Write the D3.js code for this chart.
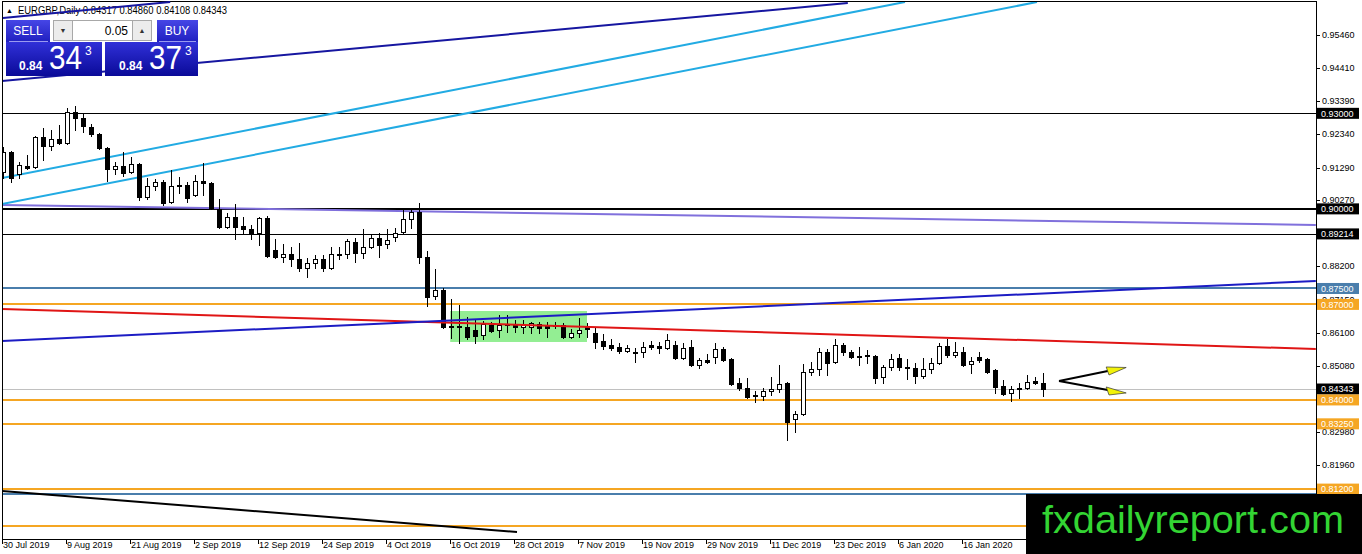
<!DOCTYPE html>
<html><head><meta charset="utf-8">
<script src="https://cdn.jsdelivr.net/npm/d3@7/dist/d3.min.js"></script>
<style>
html,body{margin:0;padding:0;background:#fff;overflow:hidden;}
svg{display:block;font-family:"Liberation Sans",Arial,sans-serif;}
</style></head>
<body><svg id="chart" width="1362" height="554"></svg>
<script>
// ---------- DATA ----------
const opens = [.9116,.9179,.9109,.9135,.9132,.9226,.9197,.9220,.9207,.9305,
.9286,.9257,.9235,.9191,.9126,.9135,.9116,.9141,.9037,.9072,
.9085,.9022,.9075,.9075,.9043,.9088,.9082,.9000,.8943,.8975,
.8946,.8937,.8925,.8972,.8871,.8849,.8858,.8843,.8815,.8831,
.8843,.8815,.8855,.8858,.8896,.8862,.8880,.8909,.8890,.8912,
.8928,.8968,.8991,.8849,.8726,.8745,.8632,.8629,.8629,.8620,
.8604,.8635,.8620,.8638,.8638,.8629,.8629,.8638,.8635,.8635,
.8635,.8598,.8611,.8629,.8611,.8585,.8573,.8566,.8554,.8551,
.8551,.8573,.8570,.8563,.8573,.8532,.8566,.8510,.8526,.8535,
.8560,.8529,.8454,.8438,.8415,.8412,.8428,.8434,.8454,.8340,
.8356,.8488,.8497,.8551,.8520,.8573,.8551,.8538,.8541,.8538,
.8472,.8504,.8532,.8504,.8501,.8475,.8497,.8517,.8570,.8541,
.8551,.8513,.8535,.8529,.8494,.8444,.8422,.8438,.8438,.8460,.8452];
const highs = [.9194,.9182,.9148,.9169,.9229,.9254,.9248,.9263,.9317,.9323,
.9302,.9266,.9238,.9194,.9148,.9179,.9163,.9144,.9097,.9094,
.9091,.9122,.9100,.9085,.9106,.9144,.9085,.9031,.8988,.9015,
.8975,.8949,.8975,.8978,.8906,.8889,.8880,.8893,.8846,.8855,
.8855,.8880,.8880,.8906,.8909,.8937,.8921,.8925,.8937,.8940,
.8997,.9000,.9019,.8868,.8811,.8752,.8717,.8698,.8661,.8651,
.8648,.8645,.8667,.8667,.8651,.8651,.8645,.8645,.8645,.8645,
.8642,.8623,.8657,.8642,.8626,.8607,.8592,.8579,.8573,.8563,
.8582,.8585,.8582,.8607,.8585,.8579,.8588,.8532,.8545,.8579,
.8566,.8532,.8469,.8469,.8428,.8438,.8472,.8510,.8457,.8366,
.8513,.8520,.8563,.8560,.8592,.8579,.8557,.8566,.8557,.8541,
.8510,.8545,.8545,.8529,.8517,.8532,.8532,.8579,.8592,.8582,
.8566,.8535,.8551,.8532,.8497,.8463,.8444,.8454,.8479,.8472,.8486];
const lows = [.9097,.9085,.9097,.9126,.9129,.9154,.9185,.9203,.9203,.9248,
.9242,.9229,.9188,.9088,.9109,.9103,.9113,.9028,.9031,.9059,
.9012,.9019,.9050,.9022,.9040,.9043,.9000,.8940,.8940,.8906,
.8921,.8906,.8886,.8849,.8846,.8834,.8821,.8805,.8786,.8815,
.8805,.8812,.8843,.8846,.8834,.8846,.8877,.8849,.8877,.8899,
.8925,.8940,.8831,.8695,.8717,.8626,.8595,.8579,.8592,.8579,
.8592,.8614,.8598,.8614,.8614,.8611,.8611,.8611,.8598,.8626,
.8595,.8595,.8598,.8598,.8563,.8560,.8557,.8548,.8551,.8520,
.8535,.8560,.8548,.8560,.8529,.8529,.8507,.8501,.8517,.8517,
.8523,.8447,.8431,.8406,.8394,.8400,.8415,.8425,.8274,.8300,
.8353,.8479,.8479,.8479,.8517,.8541,.8532,.8510,.8517,.8454,
.8454,.8494,.8494,.8466,.8454,.8469,.8485,.8513,.8535,.8535,
.8507,.8485,.8520,.8486,.8422,.8415,.8397,.8406,.8434,.8450,.8411];
const closes = [.9179,.9097,.9138,.9129,.9226,.9197,.9220,.9207,.9305,.9286,
.9260,.9235,.9191,.9126,.9135,.9113,.9141,.9037,.9072,.9085,
.9019,.9072,.9072,.9034,.9088,.9082,.9003,.8943,.8975,.8943,
.8937,.8925,.8972,.8852,.8849,.8858,.8843,.8815,.8831,.8843,
.8815,.8858,.8858,.8899,.8862,.8880,.8909,.8887,.8902,.8925,
.8968,.8991,.8849,.8723,.8745,.8629,.8629,.8632,.8598,.8601,
.8638,.8617,.8635,.8636,.8629,.8635,.8642,.8626,.8626,.8632,
.8598,.8611,.8620,.8623,.8582,.8569,.8563,.8554,.8563,.8550,
.8566,.8566,.8563,.8588,.8532,.8563,.8510,.8526,.8520,.8560,
.8526,.8450,.8438,.8409,.8414,.8428,.8434,.8450,.8331,.8356,
.8488,.8497,.8551,.8517,.8573,.8551,.8535,.8537,.8540,.8469,
.8504,.8529,.8504,.8501,.8475,.8497,.8517,.8570,.8541,.8551,
.8510,.8523,.8526,.8488,.8441,.8418,.8434,.8434,.8457,.8454,.84343];

const xLabels = ["30 Jul 2019","9 Aug 2019","21 Aug 2019","2 Sep 2019","12 Sep 2019","24 Sep 2019","4 Oct 2019","16 Oct 2019","28 Oct 2019","7 Nov 2019","19 Nov 2019","29 Nov 2019","11 Dec 2019","23 Dec 2019","6 Jan 2020","16 Jan 2020"];
const xLabelBars = [0,8,16,24,32,40,48,56,64,72,80,88,96,104,112,120];
const priceTicks = [0.9546,0.9441,0.9339,0.9234,0.9129,0.9027,0.8820,0.8715,0.8610,0.8508,0.8298,0.8196];

const levelPrices = [0.93,0.90,0.89214,0.875,0.87,0.84343,0.84,0.8325,0.812,0.8106,0.8005];
const levelKinds  = ["black","blackBold","black","steel","orange","current","orange","orange","orange","steel","orange"];
const levelLabelShown = [true,true,true,true,true,true,true,true,true,false,false];

// drawn objects, in (bar index, price)
const navyUpper  = [[0,0.95994],[20.9,0.96496]];
const navyLower  = [[-0.125,0.94016],[105.6,0.96465]];
const cyanUpper  = [[-0.125,0.90970],[112.75,0.96496]];
const cyanLower  = [[-0.125,0.90153],[129.25,0.96496]];
const purpleLine = [[-0.125,0.90122],[164.1,0.89494]];
const redLine    = [[-0.125,0.86856],[164.1,0.85600]];
const blueLine   = [[-0.125,0.85852],[164.1,0.87736]];
const blackDiag  = [[-0.125,0.81142],[64.25,0.79854]];
const greenZone  = [[55.9,0.86793],[73.0,0.85820]];
const arrowFrom  = [132,0.84596];
const arrowUpTo  = [138.1,0.84909];
const arrowDnTo  = [138.1,0.84313];
const arrowUpHead = [[137.9,0.85035],[138.25,0.84784],[140.4,0.85019]];
const arrowDnHead = [[137.9,0.84407],[138.25,0.84156],[140.4,0.84219]];

const headerText = "EURGBP,Daily  0.84317 0.84860 0.84108 0.84343";
const lotText = "0.05";

// ---------- STYLES ----------
const levelStyle = {
  black:{stroke:"#000",w:1,bg:"#000"},
  blackBold:{stroke:"#000",w:2,bg:"#000"},
  steel:{stroke:"#4a7eac",w:2,bg:"#4a7eac"},
  orange:{stroke:"#f5a623",w:2,bg:"#f5a623"},
  current:{stroke:"#c0c0c0",w:1,bg:"#000"}
};

// ---------- SCALES ----------
const svg = d3.select("#chart");
const x = d3.scaleLinear().domain([0,130]).range([3,1043]);
const y = d3.scaleLinear().domain([0.9546,0.8196]).range([35,464.9]);
const PL=2, PR=1316, PT=1, PB=539;

svg.append("rect").attr("width",1362).attr("height",554).attr("fill","#fff");
const defs = svg.append("defs");
defs.append("clipPath").attr("id","plotclip").append("rect")
  .attr("x",PL).attr("y",PT).attr("width",PR-PL).attr("height",PB-PT);
const g1 = defs.append("linearGradient").attr("id","btnG").attr("x1",0).attr("y1",0).attr("x2",0).attr("y2",1);
g1.append("stop").attr("offset","0").attr("stop-color","#4646e6");
g1.append("stop").attr("offset","1").attr("stop-color","#2020c0");
const g2 = defs.append("linearGradient").attr("id","boxG").attr("x1",0).attr("y1",0).attr("x2",0).attr("y2",1);
g2.append("stop").attr("offset","0").attr("stop-color","#3030d8");
g2.append("stop").attr("offset","1").attr("stop-color","#0a0a98");

const plot = svg.append("g").attr("clip-path","url(#plotclip)");

// green zone
plot.append("rect")
  .attr("x",x(greenZone[0][0])).attr("y",y(greenZone[0][1]))
  .attr("width",x(greenZone[1][0])-x(greenZone[0][0]))
  .attr("height",y(greenZone[1][1])-y(greenZone[0][1]))
  .attr("fill","#93ee93");

// horizontal levels
levelPrices.forEach((p,i)=>{
  const s = levelStyle[levelKinds[i]];
  const yy = Math.round(y(p)) + (s.w===1?0.5:0);
  plot.append("line").attr("x1",PL).attr("x2",PR).attr("y1",yy).attr("y2",yy)
    .attr("stroke",s.stroke).attr("stroke-width",s.w);
});

// trend lines
const line = d3.line().x(d=>x(d[0])).y(d=>y(d[1]));
function seg(pts,color,w){
  plot.append("path").attr("d",line(pts)).attr("fill","none").attr("stroke",color).attr("stroke-width",w);
}
seg(purpleLine,"#8070dc",2);
seg(navyLower,"#1616a0",2);
seg(cyanUpper,"#22abe3",2);
seg(cyanLower,"#22abe3",2);
seg(blackDiag,"#000",2);

// candles
const cg = plot.append("g");
opens.forEach((o,i)=>{
  const c = closes[i], h = highs[i], l = lows[i];
  const X = Math.round(x(i));
  cg.append("line").attr("x1",X+0.5).attr("x2",X+0.5)
    .attr("y1",Math.round(y(h))).attr("y2",Math.round(y(l))+1)
    .attr("stroke","#000").attr("stroke-width",1);
  const top = Math.round(y(Math.max(o,c))), bot = Math.round(y(Math.min(o,c)));
  if (c > o) {
    cg.append("rect").attr("x",X-1.5).attr("y",top+0.5).attr("width",4)
      .attr("height",Math.max(bot-top,1)).attr("fill","#fff").attr("stroke","#000").attr("stroke-width",1);
  } else {
    cg.append("rect").attr("x",X-2).attr("y",top).attr("width",5)
      .attr("height",Math.max(bot-top,1)+1).attr("fill","#000");
  }
});

seg(redLine,"#e01515",2);
seg(blueLine,"#1c1cc4",2);

// arrows
seg([arrowFrom,arrowUpTo],"#000",2);
seg([arrowFrom,arrowDnTo],"#000",2);
[arrowUpHead,arrowDnHead].forEach(h=>{
  plot.append("path").attr("d",line(h)+"Z").attr("fill","#f2f20a").attr("stroke","#333").attr("stroke-width",0.7);
});

// frame
svg.append("rect").attr("x",PL+0.5).attr("y",PT+0.5).attr("width",PR-PL).attr("height",PB-PT)
  .attr("fill","none").attr("stroke","#000").attr("stroke-width",1);

// x axis
xLabelBars.forEach((b,i)=>{
  const X = Math.round(x(b));
  svg.append("line").attr("x1",X-0.5).attr("x2",X-0.5).attr("y1",PB).attr("y2",PB+5).attr("stroke","#000");
  svg.append("text").attr("x",X).attr("y",PB+9).attr("font-size",9).attr("fill","#000").text(xLabels[i]);
});

// y axis
priceTicks.forEach(p=>{
  const yy = Math.round(y(p));
  svg.append("line").attr("x1",PR).attr("x2",PR+4).attr("y1",yy+0.5).attr("y2",yy+0.5).attr("stroke","#000");
  svg.append("text").attr("x",PR+6).attr("y",yy+3.3).attr("font-size",9).attr("fill","#000").text(p.toFixed(5));
});
// level label boxes (hidden ones drawn first so visible ones cover them)
const order = levelPrices.map((p,i)=>i).sort((a,b)=>levelLabelShown[a]-levelLabelShown[b]);
order.forEach(i=>{
  const p = levelPrices[i];
  const s = levelStyle[levelKinds[i]];
  const yy = y(p);
  svg.append("rect").attr("x",PR+1).attr("y",yy-5.5).attr("width",42).attr("height",11).attr("fill",s.bg);
  if (levelLabelShown[i])
    svg.append("text").attr("x",PR+5).attr("y",yy+3.3).attr("font-size",9).attr("fill","#fff").text(p.toFixed(5));
});

// header
svg.append("text").attr("x",6).attr("y",13).attr("font-size",7).attr("fill","#000").text("\u25B2");
svg.append("text").attr("x",18).attr("y",14).attr("font-size",10).attr("fill","#000")
  .attr("textLength",209).attr("lengthAdjust","spacingAndGlyphs").text(headerText);
// upper navy channel line is drawn over the header text
svg.append("g").attr("clip-path","url(#plotclip)").append("path").attr("d",line(navyUpper))
  .attr("fill","none").attr("stroke","#1616a0").attr("stroke-width",2);

// trade panel
const pn = svg.append("g");
pn.append("rect").attr("x",6).attr("y",20).attr("width",44).attr("height",22).attr("fill","url(#btnG)");
pn.append("rect").attr("x",6).attr("y",42).attr("width",96).attr("height",34).attr("fill","url(#boxG)");
pn.append("rect").attr("x",157).attr("y",20).attr("width",41).attr("height",22).attr("fill","url(#btnG)");
pn.append("rect").attr("x",105).attr("y",42).attr("width",93).attr("height",34).attr("fill","url(#boxG)");
pn.append("line").attr("x1",9).attr("x2",48).attr("y1",41.5).attr("y2",41.5).attr("stroke","#9a9af0");
pn.append("line").attr("x1",159).attr("x2",196).attr("y1",41.5).attr("y2",41.5).attr("stroke","#9a9af0");
pn.append("rect").attr("x",53.5).attr("y",20.5).attr("width",19).attr("height",20).attr("fill","#ececec").attr("stroke","#a8a8a8");
pn.append("rect").attr("x",72.5).attr("y",20.5).attr("width",60).attr("height",20).attr("fill","#fff").attr("stroke","#a8a8a8");
pn.append("rect").attr("x",132.5).attr("y",20.5).attr("width",19).attr("height",20).attr("fill","#ececec").attr("stroke","#a8a8a8");
pn.append("text").attr("x",63).attr("y",33).attr("font-size",7).attr("text-anchor","middle").attr("fill","#333").text("\u25BC");
pn.append("text").attr("x",142).attr("y",33).attr("font-size",7).attr("text-anchor","middle").attr("fill","#333").text("\u25B2");
pn.append("text").attr("x",128).attr("y",35).attr("font-size",12).attr("text-anchor","end").attr("fill","#000").text(lotText);
pn.append("text").attr("x",28).attr("y",35).attr("font-size",12).attr("text-anchor","middle").attr("fill","#fff").text("SELL");
pn.append("text").attr("x",177).attr("y",35).attr("font-size",12).attr("text-anchor","middle").attr("fill","#fff").text("BUY");
function bigPrice(x0, pre, big, sup){
  pn.append("text").attr("x",x0).attr("y",70).attr("font-size",12).attr("font-weight","bold").attr("fill","#fff").text(pre);
  pn.append("text").attr("x",x0+30).attr("y",69).attr("font-size",33).attr("fill","#fff")
    .attr("textLength",33).attr("lengthAdjust","spacingAndGlyphs").text(big);
  pn.append("text").attr("x",x0+66).attr("y",55).attr("font-size",12).attr("fill","#fff").text(sup);
}
const bidStr = closes[closes.length-1].toFixed(5);
const askStr = (closes[closes.length-1]+0.0003).toFixed(5);
bigPrice(19, bidStr.slice(0,4), bidStr.slice(4,6), bidStr.slice(6));
bigPrice(119, askStr.slice(0,4), askStr.slice(4,6), askStr.slice(6));

// watermark
svg.append("rect").attr("x",1026).attr("y",494).attr("width",336).attr("height",60).attr("fill","#000");
svg.append("text").attr("x",1042).attr("y",533).attr("font-size",39).attr("fill","#33d433")
  .attr("textLength",302).attr("lengthAdjust","spacingAndGlyphs").text("fxdailyreport.com");
</script>
</body></html>
